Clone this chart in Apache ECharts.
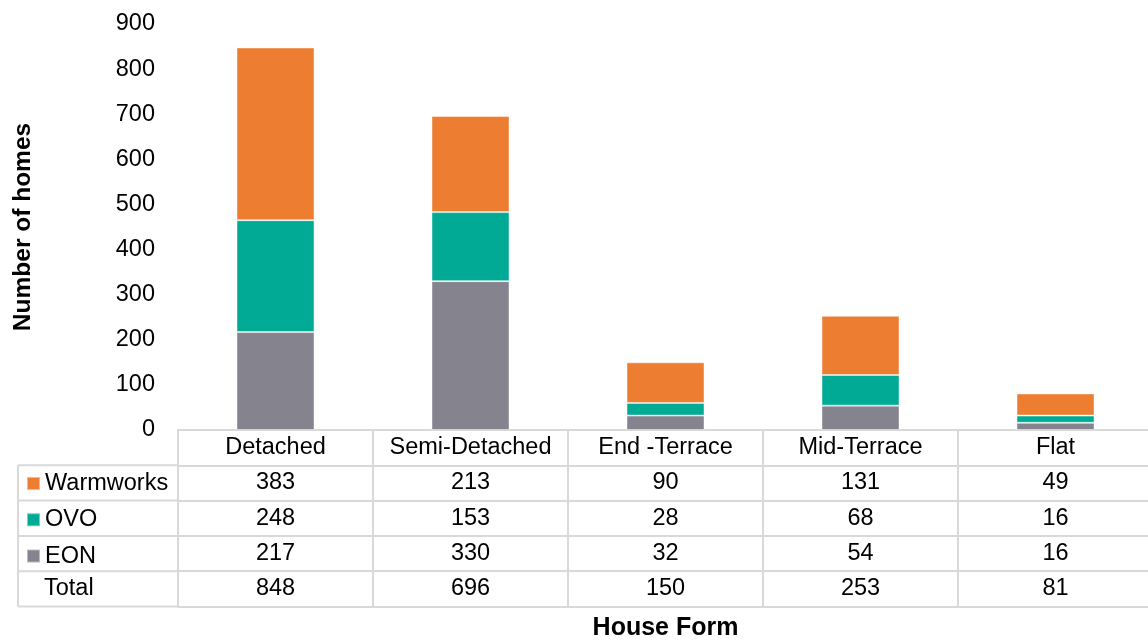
<!DOCTYPE html>
<html>
<head>
<meta charset="utf-8">
<script src="https://cdn.jsdelivr.net/npm/echarts@6/dist/echarts.min.js"></script>
<style>
html,body{margin:0;padding:0;background:#fff;}
#c{width:1148px;height:640px;}
</style>
</head>
<body>
<div id="c"></div>
<script>
const categories = ['Detached', 'Semi-Detached', 'End -Terrace', 'Mid-Terrace', 'Flat'];
const warmworks = [383, 213, 90, 131, 49];
const ovo = [248, 153, 28, 68, 16];
const eon = [217, 330, 32, 54, 16];
const totals = [848, 696, 150, 253, 81];
const yTicks = { min: 0, max: 900, interval: 100 };

const FONT = 'Liberation Sans, Arial, sans-serif';
const GRID_LEFT = 178, GRID_TOP = 24, GRID_BOTTOM = 210, GRID_WIDTH = 975;
const H = 640;
const AXIS_Y = H - GRID_BOTTOM;
const ROW = 35.3;
const LINE = '#D9D9D9';
const TXT = 23.5;

const rowValues = [null, warmworks, ovo, eon, totals, null];

const xAxes = rowValues.map((vals, k) => ({
  type: 'category',
  data: categories,
  gridIndex: 0,
  position: 'bottom',
  offset: k * ROW,
  axisLine: { show: true, lineStyle: { color: LINE, width: 2 } },
  axisTick: k === 0 ? { show: true, length: 5 * ROW, lineStyle: { color: LINE, width: 2 } } : { show: false },
  axisLabel: k === 5 ? { show: false } : {
    show: true, interval: 0, margin: ROW / 2, verticalAlign: 'middle',
    color: '#000', fontSize: TXT, fontFamily: FONT,
    formatter: (v, i) => k === 0 ? v : String(vals[i])
  },
  splitLine: { show: false },
  name: k === 0 ? 'House Form' : '',
  nameLocation: 'middle',
  nameGap: 186,
  nameTextStyle: { color: '#000', fontSize: 25, fontWeight: 'bold', fontFamily: FONT }
}));

const graphics = [];
for (let k = 1; k <= 5; k++) {
  graphics.push({
    type: 'line', silent: true,
    shape: { x1: 18, y1: AXIS_Y + k * ROW, x2: GRID_LEFT, y2: AXIS_Y + k * ROW },
    style: { stroke: LINE, lineWidth: 2 }
  });
}
graphics.push({
  type: 'line', silent: true,
  shape: { x1: 18, y1: AXIS_Y + ROW, x2: 18, y2: AXIS_Y + 5 * ROW },
  style: { stroke: LINE, lineWidth: 2 }
});
graphics.push({
  type: 'text', silent: true,
  x: 44, y: AXIS_Y + 4.5 * ROW,
  style: { text: 'Total', fill: '#000', fontSize: TXT, fontFamily: FONT, verticalAlign: 'middle', align: 'left' }
});

const barStyle = (color) => ({ color: color, borderColor: 'rgba(255,255,255,0.45)', borderWidth: 1 });

const chart = echarts.init(document.getElementById('c'), null, { renderer: 'canvas' });
chart.setOption({
  animation: false,
  backgroundColor: '#fff',
  grid: { left: GRID_LEFT, top: GRID_TOP, bottom: GRID_BOTTOM, width: GRID_WIDTH, containLabel: false, outerBoundsMode: 'none' },
  legend: {
    orient: 'vertical',
    left: 26,
    top: AXIS_Y + ROW + ROW / 2 - 11.5,
    padding: 0,
    itemWidth: 13,
    itemHeight: 13,
    itemGap: ROW - 23,
    icon: 'rect',
    data: ['Warmworks', 'OVO', 'EON'],
    textStyle: { color: '#000', fontSize: TXT, fontFamily: FONT, lineHeight: 23 }
  },
  xAxis: xAxes,
  yAxis: {
    type: 'value',
    min: yTicks.min, max: yTicks.max, interval: yTicks.interval,
    axisLine: { show: false },
    axisTick: { show: false },
    splitLine: { show: false },
    axisLabel: { color: '#000', fontSize: TXT, fontFamily: FONT, margin: 23 },
    name: 'Number of homes',
    nameLocation: 'middle',
    nameRotate: 90,
    nameGap: 142,
    nameTextStyle: { color: '#000', fontSize: 24.5, fontWeight: 'bold', fontFamily: FONT }
  },
  series: [
    { name: 'EON', type: 'bar', stack: 'a', xAxisIndex: 0, barWidth: '40%', data: eon, itemStyle: barStyle('#84838E') },
    { name: 'OVO', type: 'bar', stack: 'a', xAxisIndex: 0, barWidth: '40%', data: ovo, itemStyle: barStyle('#00AA95') },
    { name: 'Warmworks', type: 'bar', stack: 'a', xAxisIndex: 0, barWidth: '40%', data: warmworks, itemStyle: barStyle('#ED7D31') }
  ],
  graphic: graphics
});
</script>
</body>
</html>
